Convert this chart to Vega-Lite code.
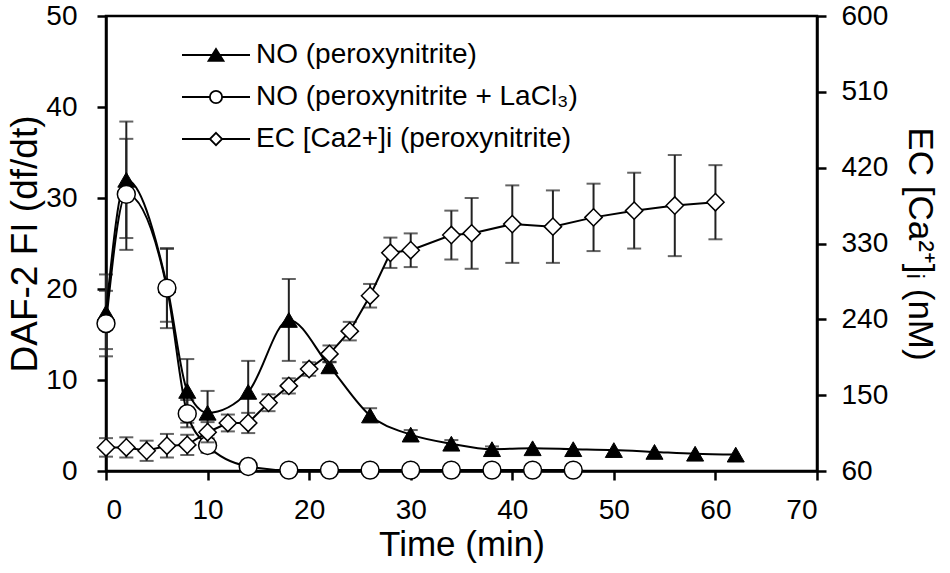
{
  "$schema": "https://vega.github.io/schema/vega-lite/v6.json",
  "width": 711,
  "height": 455,
  "autosize": {"type": "none"},
  "padding": {"left": 106, "top": 16, "right": 133, "bottom": 102},
  "background": "white",
  "data": {
    "values": [
      {"s": "NO (peroxynitrite)", "t": 0, "v": 17.4, "lo": 13.4, "hi": 21.6},
      {"s": "NO (peroxynitrite)", "t": 2, "v": 32.0, "lo": 25.6, "hi": 38.4},
      {"s": "NO (peroxynitrite)", "t": 6, "v": 20.4, "lo": 16.4, "hi": 24.4},
      {"s": "NO (peroxynitrite)", "t": 8, "v": 8.8, "lo": 5.3, "hi": 12.3},
      {"s": "NO (peroxynitrite)", "t": 10, "v": 6.4, "lo": 4.0, "hi": 8.8},
      {"s": "NO (peroxynitrite)", "t": 14, "v": 8.7, "lo": 5.3, "hi": 12.1},
      {"s": "NO (peroxynitrite)", "t": 18, "v": 16.6, "lo": 12.1, "hi": 21.1},
      {"s": "NO (peroxynitrite)", "t": 22, "v": 11.5, "lo": 11.0, "hi": 12.0},
      {"s": "NO (peroxynitrite)", "t": 26, "v": 6.1, "lo": 5.4, "hi": 6.9},
      {"s": "NO (peroxynitrite)", "t": 30, "v": 4.0, "lo": 3.5, "hi": 4.5},
      {"s": "NO (peroxynitrite)", "t": 34, "v": 3.0, "lo": 2.6, "hi": 3.4},
      {"s": "NO (peroxynitrite)", "t": 38, "v": 2.4, "lo": 2.1, "hi": 2.7},
      {"s": "NO (peroxynitrite)", "t": 42, "v": 2.5},
      {"s": "NO (peroxynitrite)", "t": 46, "v": 2.4},
      {"s": "NO (peroxynitrite)", "t": 50, "v": 2.3},
      {"s": "NO (peroxynitrite)", "t": 54, "v": 2.1},
      {"s": "NO (peroxynitrite)", "t": 58, "v": 1.9},
      {"s": "NO (peroxynitrite)", "t": 62, "v": 1.8},
      {"s": "NO (peroxynitrite + LaCl₃)", "t": 0, "v": 16.2, "lo": 12.6, "hi": 19.8},
      {"s": "NO (peroxynitrite + LaCl₃)", "t": 2, "v": 30.4, "lo": 24.3, "hi": 36.5},
      {"s": "NO (peroxynitrite + LaCl₃)", "t": 6, "v": 20.1, "lo": 15.7, "hi": 24.5},
      {"s": "NO (peroxynitrite + LaCl₃)", "t": 8, "v": 6.3, "lo": 4.8, "hi": 7.8},
      {"s": "NO (peroxynitrite + LaCl₃)", "t": 10, "v": 2.8, "lo": 2.0, "hi": 3.6},
      {"s": "NO (peroxynitrite + LaCl₃)", "t": 14, "v": 0.5},
      {"s": "NO (peroxynitrite + LaCl₃)", "t": 18, "v": 0.1},
      {"s": "NO (peroxynitrite + LaCl₃)", "t": 22, "v": 0.1},
      {"s": "NO (peroxynitrite + LaCl₃)", "t": 26, "v": 0.1},
      {"s": "NO (peroxynitrite + LaCl₃)", "t": 30, "v": 0.1},
      {"s": "NO (peroxynitrite + LaCl₃)", "t": 34, "v": 0.1},
      {"s": "NO (peroxynitrite + LaCl₃)", "t": 38, "v": 0.1},
      {"s": "NO (peroxynitrite + LaCl₃)", "t": 42, "v": 0.1},
      {"s": "NO (peroxynitrite + LaCl₃)", "t": 46, "v": 0.1},
      {"s": "EC [Ca2+]i (peroxynitrite)", "t": 0, "v": 88, "lo": 77, "hi": 99},
      {"s": "EC [Ca2+]i (peroxynitrite)", "t": 2, "v": 88, "lo": 76, "hi": 100},
      {"s": "EC [Ca2+]i (peroxynitrite)", "t": 4, "v": 84, "lo": 72, "hi": 96},
      {"s": "EC [Ca2+]i (peroxynitrite)", "t": 6, "v": 90, "lo": 76, "hi": 104},
      {"s": "EC [Ca2+]i (peroxynitrite)", "t": 8, "v": 91, "lo": 79, "hi": 103},
      {"s": "EC [Ca2+]i (peroxynitrite)", "t": 10, "v": 106, "lo": 94, "hi": 118},
      {"s": "EC [Ca2+]i (peroxynitrite)", "t": 12, "v": 117, "lo": 107, "hi": 127},
      {"s": "EC [Ca2+]i (peroxynitrite)", "t": 14, "v": 117, "lo": 105, "hi": 129},
      {"s": "EC [Ca2+]i (peroxynitrite)", "t": 16, "v": 141, "lo": 131, "hi": 151},
      {"s": "EC [Ca2+]i (peroxynitrite)", "t": 18, "v": 161, "lo": 152, "hi": 170},
      {"s": "EC [Ca2+]i (peroxynitrite)", "t": 20, "v": 181, "lo": 173, "hi": 189},
      {"s": "EC [Ca2+]i (peroxynitrite)", "t": 22, "v": 199, "lo": 189, "hi": 209},
      {"s": "EC [Ca2+]i (peroxynitrite)", "t": 24, "v": 226, "lo": 215, "hi": 237},
      {"s": "EC [Ca2+]i (peroxynitrite)", "t": 26, "v": 268, "lo": 254, "hi": 282},
      {"s": "EC [Ca2+]i (peroxynitrite)", "t": 28, "v": 319, "lo": 301, "hi": 337},
      {"s": "EC [Ca2+]i (peroxynitrite)", "t": 30, "v": 322, "lo": 302, "hi": 342},
      {"s": "EC [Ca2+]i (peroxynitrite)", "t": 34, "v": 340, "lo": 311, "hi": 369},
      {"s": "EC [Ca2+]i (peroxynitrite)", "t": 36, "v": 342, "lo": 300, "hi": 384},
      {"s": "EC [Ca2+]i (peroxynitrite)", "t": 40, "v": 353, "lo": 307, "hi": 399},
      {"s": "EC [Ca2+]i (peroxynitrite)", "t": 44, "v": 350, "lo": 307, "hi": 393},
      {"s": "EC [Ca2+]i (peroxynitrite)", "t": 48, "v": 361, "lo": 321, "hi": 401},
      {"s": "EC [Ca2+]i (peroxynitrite)", "t": 52, "v": 369, "lo": 324, "hi": 414},
      {"s": "EC [Ca2+]i (peroxynitrite)", "t": 56, "v": 375, "lo": 315, "hi": 435},
      {"s": "EC [Ca2+]i (peroxynitrite)", "t": 60, "v": 379, "lo": 335, "hi": 423}
    ]
  },
  "encoding": {
    "x": {
      "field": "t",
      "type": "quantitative",
      "scale": {"domain": [0, 70], "nice": false},
      "axis": {
        "values": [0, 10, 20, 30, 40, 50, 60, 70],
        "title": "Time (min)",
        "labelPadding": 16,
        "titlePadding": 3
      }
    }
  },
  "layer": [
    {
      "layer": [
        {
          "transform": [{"filter": "datum.s !== 'EC [Ca2+]i (peroxynitrite)' && isValid(datum.lo)"}],
          "mark": {"type": "errorbar", "ticks": true, "size": 14, "thickness": 2, "color": "#222"},
          "encoding": {
            "y": {"field": "lo", "type": "quantitative", "title": "DAF-2 FI (df/dt)", "scale": {"domain": [0, 50], "nice": false}},
            "y2": {"field": "hi"}
          }
        },
        {
          "transform": [{"filter": "datum.s === 'NO (peroxynitrite)'"}],
          "mark": {"type": "line", "interpolate": "monotone", "color": "black", "strokeWidth": 2},
          "encoding": {
            "y": {"field": "v", "type": "quantitative", "title": "DAF-2 FI (df/dt)", "scale": {"domain": [0, 50], "nice": false}}
          }
        },
        {
          "transform": [{"filter": "datum.s === 'NO (peroxynitrite + LaCl₃)'"}],
          "mark": {"type": "line", "interpolate": "monotone", "color": "black", "strokeWidth": 2},
          "encoding": {
            "y": {"field": "v", "type": "quantitative", "title": "DAF-2 FI (df/dt)", "scale": {"domain": [0, 50], "nice": false}}
          }
        },
        {
          "transform": [{"filter": "datum.s === 'NO (peroxynitrite)'"}],
          "mark": {"type": "point", "shape": "triangle-up", "size": 290, "filled": true, "stroke": "black", "strokeWidth": 1, "opacity": 1},
          "encoding": {
            "y": {
              "field": "v",
              "type": "quantitative",
              "title": "DAF-2 FI (df/dt)",
              "scale": {"domain": [0, 50], "nice": false},
              "axis": {"orient": "left", "values": [0, 10, 20, 30, 40, 50], "labelPadding": 20, "titlePadding": 1, "titleFontSize": 37}
            },
            "fill": {
              "field": "s",
              "type": "nominal",
              "scale": {
                "domain": ["NO (peroxynitrite)", "NO (peroxynitrite + LaCl₃)", "EC [Ca2+]i (peroxynitrite)"],
                "range": ["black", "white", "white"]
              },
              "legend": {
                "title": null,
                "orient": "none",
                "legendX": 75,
                "legendY": 18,
                "padding": 0,
                "symbolSize": 4624,
                "symbolType": {"expr": "datum.value === 'NO (peroxynitrite)' ? 'M-1,0H1M0,-0.18L0.22,0.17H-0.22Z' : (datum.value === 'EC [Ca2+]i (peroxynitrite)' ? 'M-1,0H-0.18M0.18,0H1M0,-0.18L0.18,0L0,0.18L-0.18,0Z' : 'M-1,0H-0.18M0.18,0H1M0.18,0A0.18,0.18,0,1,1,-0.18,0A0.18,0.18,0,1,1,0.18,0Z')"},
                "symbolStrokeColor": "black",
                "symbolStrokeWidth": 1.8,
                "labelFont": "Liberation Sans",
                "labelFontSize": 28,
                "labelColor": "black",
                "labelOffset": 5,
                "labelLimit": 600,
                "clipHeight": 42,
                "rowPadding": 0
              }
            }
          }
        },
        {
          "transform": [{"filter": "datum.s === 'NO (peroxynitrite + LaCl₃)'"}],
          "mark": {"type": "point", "shape": "circle", "size": 320, "filled": true, "stroke": "black", "strokeWidth": 1.5, "opacity": 1},
          "encoding": {
            "y": {"field": "v", "type": "quantitative", "title": "DAF-2 FI (df/dt)", "scale": {"domain": [0, 50], "nice": false}},
            "fill": {"field": "s", "type": "nominal"}
          }
        }
      ]
    },
    {
      "layer": [
        {
          "transform": [{"filter": "datum.s === 'EC [Ca2+]i (peroxynitrite)'"}],
          "mark": {"type": "errorbar", "ticks": true, "size": 14, "thickness": 2, "color": "#222"},
          "encoding": {
            "y": {"field": "lo", "type": "quantitative", "title": "EC [Ca²⁺]ᵢ (nM)", "scale": {"domain": [60, 600], "nice": false}},
            "y2": {"field": "hi"}
          }
        },
        {
          "transform": [{"filter": "datum.s === 'EC [Ca2+]i (peroxynitrite)'"}],
          "mark": {"type": "line", "color": "black", "strokeWidth": 2},
          "encoding": {
            "y": {"field": "v", "type": "quantitative", "title": "EC [Ca²⁺]ᵢ (nM)", "scale": {"domain": [60, 600], "nice": false}}
          }
        },
        {
          "transform": [{"filter": "datum.s === 'EC [Ca2+]i (peroxynitrite)'"}],
          "mark": {"type": "point", "shape": "diamond", "size": 300, "filled": true, "stroke": "black", "strokeWidth": 1.5, "opacity": 1},
          "encoding": {
            "y": {
              "field": "v",
              "type": "quantitative",
              "title": "EC [Ca²⁺]ᵢ (nM)",
              "scale": {"domain": [60, 600], "nice": false},
              "axis": {"orient": "right", "values": [60, 150, 240, 330, 420, 510, 600], "labelPadding": 15, "titlePadding": 14}
            },
            "fill": {"field": "s", "type": "nominal"}
          }
        }
      ]
    }
  ],
  "resolve": {"scale": {"y": "independent"}},
  "config": {
    "font": "Liberation Sans",
    "view": {"stroke": "black", "strokeWidth": 2.5},
    "axis": {
      "grid": false,
      "domainColor": "black",
      "domainWidth": 2.5,
      "tickColor": "black",
      "tickWidth": 2.5,
      "tickSize": 9,
      "labelFont": "Liberation Sans",
      "labelFontSize": 28,
      "labelColor": "black",
      "titleFont": "Liberation Sans",
      "titleFontSize": 35,
      "titleFontWeight": "normal",
      "titleColor": "black"
    }
  }
}
